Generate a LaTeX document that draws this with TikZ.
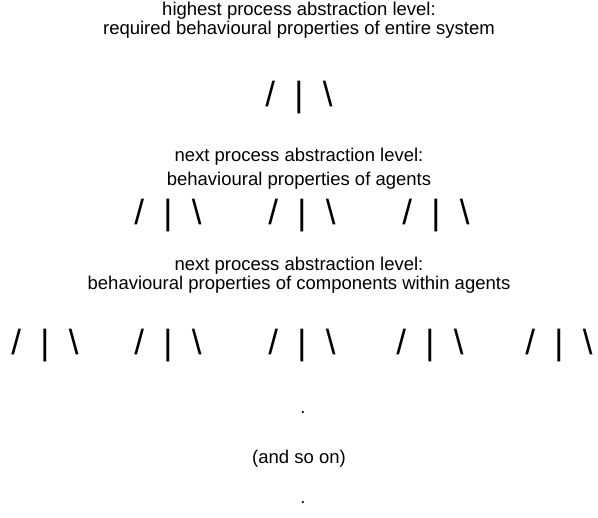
\documentclass[tikz,border=0pt]{standalone}
\usepackage{fontspec}
\setmainfont{Liberation Sans}
\newcommand{\tightlines}{\lineskiplimit=-20pt\relax}
\tikzset{
  lvl/.style={align=center, inner sep=0pt, font=\fontsize{18.5}{19}\selectfont\tightlines},
  fork/.style={inner sep=0pt, font=\fontsize{35}{35}\selectfont},
}
\newcommand{\forkglyphs}{/\hspace{.55em}|\hspace{.55em}\textbackslash}
\begin{document}
\begin{tikzpicture}[x=1pt,y=-1pt]
\useasboundingbox (0,0) rectangle (598,518);
\node[lvl] (lev0) at (299,20) {highest process abstraction level:\\required behavioural properties of entire system};
\node[fork] (f0) at (299,98) {\forkglyphs};
\node[lvl] (lev1) at (299,169) {next process abstraction level:\\[5pt]behavioural properties of agents};
\node[fork] (f10) at (168,216) {\forkglyphs};
\node[fork] (f11) at (302,216) {\forkglyphs};
\node[fork] (f12) at (436,216) {\forkglyphs};
\node[lvl] (lev2) at (299,275) {next process abstraction level:\\behavioural properties of components within agents};
\node[fork] (f20) at (45,346) {\forkglyphs};
\node[fork] (f21) at (168,346) {\forkglyphs};
\node[fork] (f22) at (302,346) {\forkglyphs};
\node[fork] (f23) at (430,346) {\forkglyphs};
\node[fork] (f24) at (559,346) {\forkglyphs};
\node[lvl] (dot0) at (303,413) {.};
\node[lvl] (more) at (299,459) {(and so on)};
\node[lvl] (dot1) at (303,503) {.};
\end{tikzpicture}
\end{document}
